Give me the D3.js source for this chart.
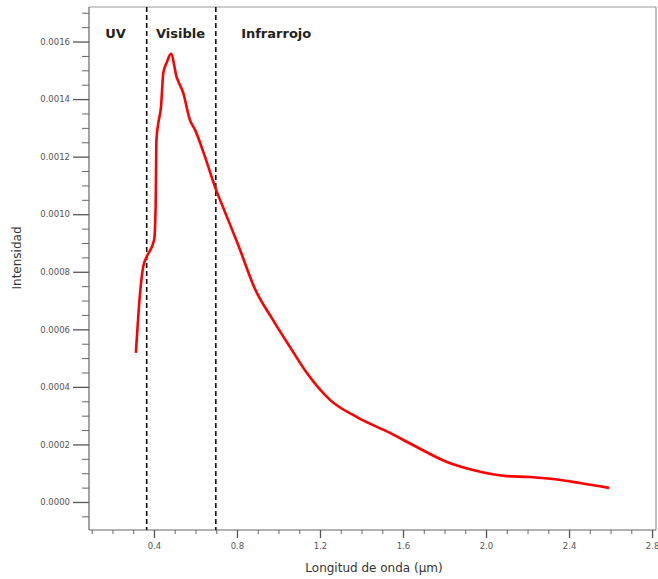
<!DOCTYPE html>
<html>
<head>
<meta charset="utf-8">
<script src="https://cdn.jsdelivr.net/npm/d3@7"></script>
<style>
	body { margin: 0; background: #fff; }
	svg text { font-family: "DejaVu Sans", Verdana, sans-serif; }
	.tick-label { font-size: 8.5px; fill: #555; }
	.axis-title { font-size: 12px; fill: #333; }
	.region { font-size: 13px; font-weight: bold; fill: #222; }
</style>
</head>
<body>
<script>

// wavelength (um) and intensity
var wavelength = [0.313, 0.333, 0.348, 0.365, 0.401, 0.408, 0.412, 0.421, 0.434, 0.445, 0.461, 0.482,
	0.509, 0.541, 0.573, 0.598, 0.646, 0.694, 0.742, 0.806, 0.887, 0.973, 1.055, 1.137, 1.248,
	1.378, 1.537, 1.648, 1.812, 1.937, 2.101, 2.212, 2.323, 2.453, 2.593];
var intensity = [0.000518, 0.000726, 0.000817, 0.000852, 0.000911, 0.001025, 0.001258, 0.001317,
	0.001373, 0.001491, 0.001526, 0.001557, 0.001477, 0.001422, 0.001328, 0.001293, 0.001199,
	0.001095, 0.001008, 0.000893, 0.000740, 0.000633, 0.000539, 0.000448, 0.000355, 0.000295,
	0.000240, 0.000198, 0.000139, 0.000111, 0.000090, 0.000087, 0.000080, 0.000066, 0.000049];

var xTicks = [0.4, 0.8, 1.2, 1.6, 2.0, 2.4, 2.8];
var yTicks = [0.0000, 0.0002, 0.0004, 0.0006, 0.0008, 0.0010, 0.0012, 0.0014, 0.0016];

var regionBounds = [0.365, 0.698];
var regionNames = ["UV", "Visible", "Infrarrojo"];
var regionLabelX = [0.165, 0.41, 0.82];

var width = 658,
	height = 579;
var margin = {top: 7, right: 2, bottom: 49, left: 89};

var svg = d3.select("body").append("svg")
	.attr("width", width)
	.attr("height", height);

var x = d3.scaleLinear()
	.domain([0.087, 2.819])
	.range([margin.left, width - margin.right]);

var y = d3.scaleLinear()
	.domain([-0.0000973, 0.00172])
	.range([height - margin.bottom, margin.top]);

var x0 = margin.left, x1 = width - margin.right;
var y0 = height - margin.bottom, y1 = margin.top;

// frame top + right
svg.append("path")
	.attr("d", "M" + x0 + "," + y1 + "H" + x1 + "V" + y0)
	.attr("fill", "none")
	.attr("stroke", "#999")
	.attr("stroke-width", 1.2);

// x axis
var xMinor = d3.range(1, 29).map(function(d) { return d / 10; })
	.filter(function(d) { return Math.round(d * 10) % 4 != 0 && x(d) >= x0 && x(d) <= x1; });

svg.append("g")
	.attr("transform", "translate(0," + y0 + ")")
	.call(d3.axisBottom(x).tickValues(xMinor).tickSize(4).tickFormat(""))
	.call(function(g) { g.select(".domain").remove(); g.selectAll("line").attr("stroke", "#666"); });

var xAxis = svg.append("g")
	.attr("transform", "translate(0," + y0 + ")")
	.call(d3.axisBottom(x).tickValues(xTicks).tickSize(8).tickPadding(5).tickFormat(d3.format(".1f")))
	.call(function(g) {
		g.select(".domain").attr("d", "M" + x0 + ",0H" + x1).attr("stroke", "#666").attr("stroke-width", 1.2);
		g.selectAll("line").attr("stroke", "#555").attr("stroke-width", 1.3);
		g.selectAll("text").attr("class", "tick-label").attr("font-family", null).attr("font-size", null).attr("fill", null);
	});

// y axis
var yMinor = d3.range(-1, 35).map(function(d) { return d * 0.00005; })
	.filter(function(d) { return Math.round(d / 0.00005) % 4 != 0 && y(d) <= y0 && y(d) >= y1; });

svg.append("g")
	.attr("transform", "translate(" + x0 + ",0)")
	.call(d3.axisLeft(y).tickValues(yMinor).tickSize(7).tickFormat(""))
	.call(function(g) { g.select(".domain").remove(); g.selectAll("line").attr("stroke", "#666"); });

svg.append("g")
	.attr("transform", "translate(" + x0 + ",0)")
	.call(d3.axisLeft(y).tickValues(yTicks).tickSize(16).tickPadding(3).tickFormat(d3.format(".4f")))
	.call(function(g) {
		g.select(".domain").attr("d", "M0," + y0 + "V" + y1).attr("stroke", "#666").attr("stroke-width", 1.2);
		g.selectAll("line").attr("stroke", "#555").attr("stroke-width", 1.3);
		g.selectAll("text").attr("class", "tick-label").attr("font-family", null).attr("font-size", null).attr("fill", null);
	});

// axis titles
svg.append("text")
	.attr("class", "axis-title")
	.attr("x", 374)
	.attr("y", 572)
	.attr("text-anchor", "middle")
	.text("Longitud de onda (\u00b5m)");

svg.append("text")
	.attr("class", "axis-title")
	.attr("transform", "translate(21,258) rotate(-90)")
	.attr("text-anchor", "middle")
	.text("Intensidad");

// region boundaries
svg.selectAll(".bound")
	.data(regionBounds)
	.enter().append("line")
	.attr("class", "bound")
	.attr("x1", function(d) { return x(d); })
	.attr("x2", function(d) { return x(d); })
	.attr("y1", y1)
	.attr("y2", y0)
	.attr("stroke", "#111")
	.attr("stroke-width", 1.6)
	.attr("stroke-dasharray", "5,3");

svg.selectAll(".region")
	.data(regionNames)
	.enter().append("text")
	.attr("class", "region")
	.attr("x", function(d, i) { return x(regionLabelX[i]); })
	.attr("y", 38)
	.text(function(d) { return d; });

// spectrum
var line = d3.line()
	.x(function(d, i) { return x(wavelength[i]); })
	.y(function(d) { return y(d); })
	.curve(d3.curveMonotoneX);

svg.append("path")
	.datum(intensity)
	.attr("d", line)
	.attr("fill", "none")
	.attr("stroke", "#ff0000")
	.attr("stroke-width", 2.6)
	.attr("stroke-linejoin", "round");

</script>
</body>
</html>
